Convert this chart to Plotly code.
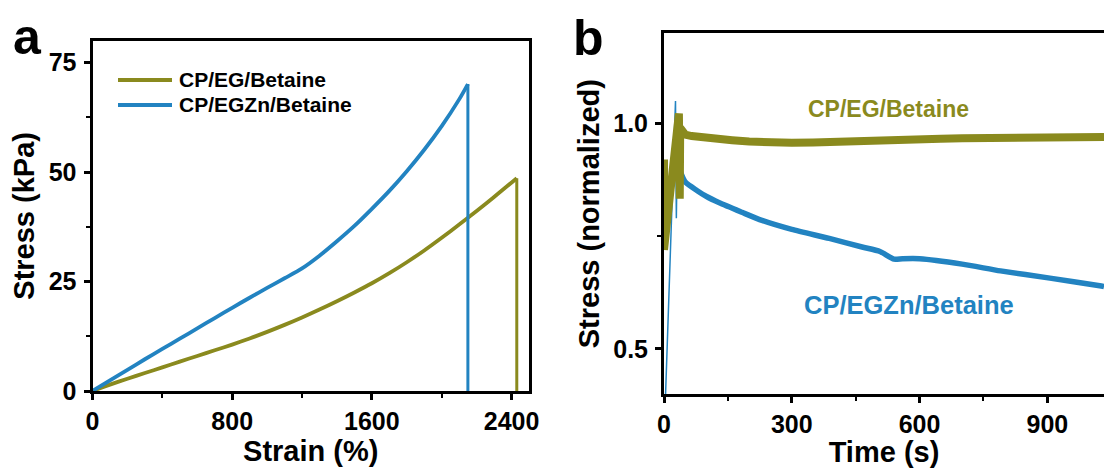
import plotly.graph_objects as go

W, H = 1104, 468
OLIVE = "#8A8A1E"
BLUE = "#2283C1"
FONT = "Liberation Sans, Arial, sans-serif"

# ---------------- Panel a : stress-strain ----------------
strain_eg = [0, 100, 200, 300, 400, 500, 600, 700, 800, 900, 1000, 1100, 1200,
             1300, 1400, 1500, 1600, 1700, 1800, 1900, 2000, 2100, 2200, 2300, 2430]
stress_eg = [0, 1.45, 2.8, 4.1, 5.4, 6.7, 8.0, 9.3, 10.6, 12.0, 13.5, 15.1, 16.8,
             18.6, 20.5, 22.5, 24.6, 26.9, 29.4, 32.1, 35.0, 38.0, 41.1, 44.3, 48.6]
break_eg_strain = [2430, 2430]
break_eg_stress = [48.6, 0]

strain_zn = [0, 100, 200, 300, 400, 500, 600, 700, 800, 900, 1000, 1100, 1200,
             1300, 1400, 1500, 1600, 1700, 1800, 1900, 2000, 2100, 2150]
stress_zn = [0, 2.45, 4.85, 7.25, 9.6, 11.95, 14.3, 16.65, 19.0, 21.3, 23.55, 25.75,
             28.0, 30.9, 34.2, 37.7, 41.6, 45.7, 50.2, 55.1, 60.5, 66.6, 70.1]
break_zn_strain = [2150, 2150]
break_zn_stress = [70.1, 0]

# ---------------- Panel b : stress relaxation ----------------
time_eg = [0, 0, 35, 37, 38, 42, 50, 65, 80, 100, 130, 160, 200, 250, 300, 350,
           400, 450, 500, 550, 600, 650, 700, 750, 800, 850, 900, 950, 1000, 1033]
norm_eg = [0.92, 0.72, 1.022, 0.833, 0.99, 0.985, 0.975, 0.972, 0.970, 0.968,
           0.966, 0.963, 0.960, 0.957, 0.957, 0.958, 0.960, 0.962, 0.963, 0.964,
           0.965, 0.966, 0.967, 0.967, 0.968, 0.968, 0.968, 0.969, 0.970, 0.970]

time_zn_ramp = [3, 27, 29, 31]
norm_zn_ramp = [0.38, 1.05, 0.79, 0.93]

time_zn = [31, 36, 50, 78, 100, 130, 183, 230, 300, 388, 465, 507, 540, 560, 600,
           700, 790, 906, 1023, 1033]
norm_zn = [0.93, 0.90, 0.87, 0.851, 0.838, 0.824, 0.803, 0.785, 0.765, 0.745,
           0.726, 0.716, 0.699, 0.700, 0.700, 0.688, 0.673, 0.657, 0.640, 0.638]

fig = go.Figure()
fig.add_trace(go.Scatter(x=strain_eg, y=stress_eg, mode="lines", name="CP/EG/Betaine",
                         line=dict(color=OLIVE, width=3.8, shape="spline", smoothing=0.8),
                         xaxis="x", yaxis="y", showlegend=False))
fig.add_trace(go.Scatter(x=break_eg_strain, y=break_eg_stress, mode="lines", showlegend=False,
                         line=dict(color=OLIVE, width=3), xaxis="x", yaxis="y"))
fig.add_trace(go.Scatter(x=strain_zn, y=stress_zn, mode="lines", name="CP/EGZn/Betaine",
                         line=dict(color=BLUE, width=3.8, shape="spline", smoothing=0.8),
                         xaxis="x", yaxis="y", showlegend=False))
fig.add_trace(go.Scatter(x=break_zn_strain, y=break_zn_stress, mode="lines", showlegend=False,
                         line=dict(color=BLUE, width=3), xaxis="x", yaxis="y"))
fig.add_trace(go.Scatter(x=time_zn_ramp, y=norm_zn_ramp, mode="lines", showlegend=False,
                         line=dict(color=BLUE, width=1.5), xaxis="x2", yaxis="y2"))
fig.add_trace(go.Scatter(x=time_zn, y=norm_zn, mode="lines", showlegend=False,
                         line=dict(color=BLUE, width=5.5, shape="spline", smoothing=0.6),
                         xaxis="x2", yaxis="y2"))
fig.add_trace(go.Scatter(x=time_eg, y=norm_eg, mode="lines", showlegend=False,
                         line=dict(color=OLIVE, width=8), xaxis="x2", yaxis="y2"))

tickfont = dict(family=FONT, size=25, color="black", weight="bold")
titlefont = dict(family=FONT, size=29, color="black", weight="bold")
common = dict(showline=True, linecolor="black", linewidth=3, ticks="outside",
              ticklen=6, tickwidth=2.5, tickcolor="black", showgrid=False,
              zeroline=False, tickfont=tickfont, automargin=False)
minor_style = dict(ticks="outside", ticklen=4, tickwidth=2, tickcolor="black")

# legend of panel a (line swatch + label), positioned in pixels
legend_rows = [("CP/EG/Betaine", OLIVE, 80), ("CP/EGZn/Betaine", BLUE, 105)]
shapes = []
annotations = []
for label, color, ypx in legend_rows:
    shapes.append(dict(type="line", xref="paper", yref="paper",
                       x0=118 / W, x1=172 / W, y0=(H - ypx) / H, y1=(H - ypx) / H,
                       line=dict(color=color, width=4)))
    annotations.append(dict(text=label, x=178 / W, y=(H - ypx) / H, xref="paper",
                            yref="paper", showarrow=False, xanchor="left",
                            yanchor="middle", borderpad=0,
                            font=dict(family=FONT, size=21, color="black", weight="bold")))

annotations += [
    dict(text="a", x=27 / W, y=(H - 37) / H, xref="paper", yref="paper",
         showarrow=False, xanchor="center", yanchor="middle",
         font=dict(family=FONT, size=50, color="black", weight="bold")),
    dict(text="b", x=588 / W, y=(H - 38) / H, xref="paper", yref="paper",
         showarrow=False, xanchor="center", yanchor="middle",
         font=dict(family=FONT, size=50, color="black", weight="bold")),
    dict(text="CP/EG/Betaine", x=528, y=1.033, xref="x2", yref="y2",
         showarrow=False, xanchor="center", yanchor="middle",
         font=dict(family=FONT, size=23, color=OLIVE, weight="bold")),
    dict(text="CP/EGZn/Betaine", x=575, y=0.598, xref="x2", yref="y2",
         showarrow=False, xanchor="center", yanchor="middle",
         font=dict(family=FONT, size=25.5, color=BLUE, weight="bold")),
]

fig.update_layout(
    width=W, height=H,
    margin=dict(l=0, r=0, t=0, b=0),
    paper_bgcolor="white", plot_bgcolor="white",
    showlegend=False,
    xaxis=dict(domain=[92.5 / W, 529 / W], range=[0, 2500], anchor="y",
               tick0=0, dtick=800, mirror=True, minor=dict(dtick=400, **minor_style),
               title=dict(text="Strain (%)", font=titlefont, standoff=6), **common),
    yaxis=dict(domain=[(H - 391) / H, (H - 40.7) / H], range=[0, 80], anchor="x",
               tick0=0, dtick=25, mirror=True, ticklabelstandoff=2,
               minor=dict(dtick=12.5, **minor_style),
               title=dict(text="Stress (kPa)", font=titlefont, standoff=6), **common),
    xaxis2=dict(domain=[664 / W, 1.0], range=[0, 1033], anchor="y2",
                tick0=0, dtick=300, mirror=True, minor=dict(dtick=150, **minor_style),
                title=dict(text="Time (s)", font=titlefont, standoff=6), **common),
    yaxis2=dict(domain=[(H - 394) / H, (H - 33.3) / H], range=[0.4, 1.2], anchor="x2",
                tickvals=[0.5, 1.0], ticktext=["0.5", "1.0"], mirror=False,
                ticklabelstandoff=2, minor=dict(tickvals=[0.75], **minor_style),
                title=dict(text="Stress (normalized)", font=titlefont, standoff=6), **common),
    shapes=shapes,
    annotations=annotations,
)

fig.write_html("out.html")
